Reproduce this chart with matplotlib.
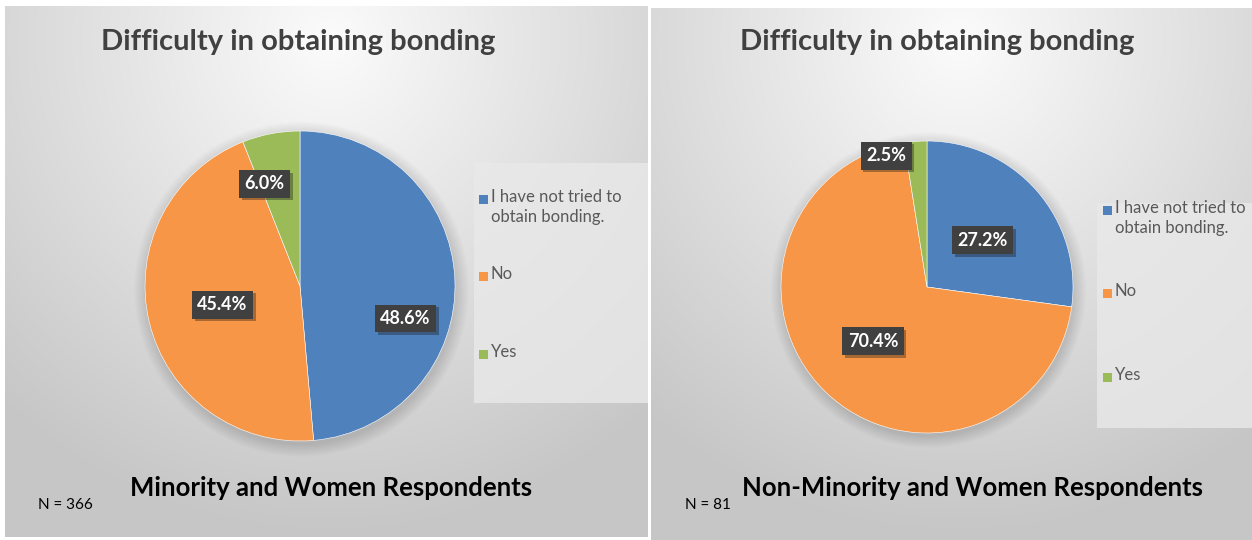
import matplotlib
matplotlib.use("Agg")
import matplotlib.pyplot as plt
import matplotlib.patheffects as pe
import numpy as np

categories = ["I have not tried to\nobtain bonding.", "No", "Yes"]
colors = ["#4F81BD", "#F79646", "#9BBB59"]
left_values = [48.6, 45.4, 6.0]
right_values = [27.2, 70.4, 2.5]
title = "Difficulty in obtaining bonding"
left_subtitle = "Minority and Women Respondents"
right_subtitle = "Non-Minority and Women Respondents"
left_n = "N = 366"
right_n = "N = 81"

W, H = 1252, 540
plt.rcParams["font.family"] = ["Lato", "DejaVu Sans"]

fig = plt.figure(figsize=(W / 100, H / 100), dpi=100)
fig.patch.set_facecolor("white")
bg = fig.add_axes([0, 0, 1, 1])
bg.set_xlim(0, W)
bg.set_ylim(H, 0)
bg.axis("off")


def panel_background(x0, x1, y0, y1, cx):
    xs = np.linspace(x0, x1, 300)
    ys = np.linspace(y0, y1, 260)
    xx, yy = np.meshgrid(xs, ys)
    d = np.sqrt(((xx - cx) / 420.0) ** 2 + ((yy - 40) / 430.0) ** 2)
    v = 0.985 - 0.18 * np.clip(d, 0, 1.15)
    img = np.dstack([v, v, v])
    bg.imshow(img, extent=[x0, x1, y1, y0], aspect="auto", zorder=0, interpolation="bilinear")


panel_background(5, 648, 6, 537, 330)
panel_background(651, 1252, 8, 540, 960)
bg.set_xlim(0, W)
bg.set_ylim(H, 0)

# legend boxes
bg.add_patch(plt.Rectangle((474, 163), 174, 240, facecolor="#e9e9e9", edgecolor="none", alpha=0.8, zorder=1))
bg.add_patch(plt.Rectangle((1097, 203), 155, 225, facecolor="#e9e9e9", edgecolor="none", alpha=0.8, zorder=1))


def draw_pie(cx, cy, r, values, label_pos):
    ax = fig.add_axes([(cx - r) / W, 1 - (cy + r) / H, 2 * r / W, 2 * r / H])
    # soft shadow
    for k in np.linspace(1.08, 1.005, 10):
        ax.add_patch(plt.Circle((0.01, -0.02), k, color="black", alpha=0.012, lw=0, zorder=0, clip_on=False))
    wedges, _ = ax.pie(values, colors=colors, startangle=90, counterclock=False, radius=1.0,
                       wedgeprops=dict(linewidth=0.4, edgecolor="white"))
    for w in wedges:
        w.set_zorder(2)
    for v, (lx, ly) in zip(values, label_pos):
        t = ax.text(lx, ly, f"{v:.1f}%", ha="center", va="center", color="white",
                    fontsize=13, fontweight="bold", zorder=5,
                    bbox=dict(boxstyle="square,pad=0.3", facecolor="#404040", edgecolor="none"))
        t.get_bbox_patch().set_path_effects([pe.withSimplePatchShadow(offset=(2, -2), alpha=0.35)])
    ax.set_xlim(-1, 1)
    ax.set_ylim(-1, 1)
    ax.set_aspect("equal")
    ax.axis("off")
    return ax


draw_pie(300, 286, 155, left_values, [(0.68, -0.21), (-0.50, -0.12), (-0.23, 0.66)])
draw_pie(927, 287, 146, right_values, [(0.38, 0.32), (-0.37, -0.37), (-0.28, 0.90)])


def draw_legend(x, ys):
    for c, lab, y in zip(colors, categories, ys):
        bg.add_patch(plt.Rectangle((x, y - 4.5), 9, 9, facecolor=c, edgecolor="none", zorder=3))
        bg.text(x + 12, y - 10, lab, ha="left", va="top", fontsize=12, color="#595959",
                linespacing=1.3, zorder=3)


draw_legend(479, [199, 276, 354])
draw_legend(1103, [210, 293, 377])

for x, sub, sx, n, nx in [(298, left_subtitle, 331, left_n, 38), (937, right_subtitle, 972, right_n, 685)]:
    bg.text(x, 42, title, ha="center", va="center", fontsize=21, fontweight="bold", color="#404040", zorder=3)
    bg.text(sx, 488, sub, ha="center", va="center", fontsize=18.5, fontweight="bold", color="black", zorder=3)
    bg.text(nx, 505, n, ha="left", va="center", fontsize=11, color="black", zorder=3)

fig.savefig("out.png", dpi=100)
